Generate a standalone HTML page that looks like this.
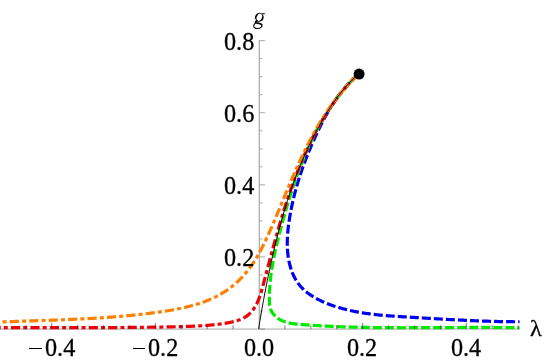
<!DOCTYPE html>
<html><head><meta charset="utf-8"><style>
html,body{margin:0;padding:0;background:#fff;}
body{width:545px;height:361px;overflow:hidden;position:relative;font-family:"Liberation Serif",serif;}
svg{position:absolute;left:0;top:0;}
.t{position:absolute;font-size:24.2px;line-height:1;color:#000;white-space:nowrap;-webkit-text-stroke:0.3px #000;will-change:transform;}
</style></head><body>
<svg width="545" height="361" viewBox="0 0 545 361">
<line x1="0" y1="329.1" x2="519.6" y2="329.1" stroke="#a6a6a6" stroke-width="1"/>
<line x1="259.3" y1="40.3" x2="259.3" y2="329.0" stroke="#a6a6a6" stroke-width="1.2"/>
<line x1="259.0" y1="310.98" x2="262.6" y2="310.98" stroke="#a8a8a8" stroke-width="1"/>
<line x1="259.0" y1="292.96" x2="262.6" y2="292.96" stroke="#a8a8a8" stroke-width="1"/>
<line x1="259.0" y1="274.94" x2="262.6" y2="274.94" stroke="#a8a8a8" stroke-width="1"/>
<line x1="259.0" y1="256.92" x2="265.0" y2="256.92" stroke="#a8a8a8" stroke-width="1"/>
<line x1="259.0" y1="238.90" x2="262.6" y2="238.90" stroke="#a8a8a8" stroke-width="1"/>
<line x1="259.0" y1="220.88" x2="262.6" y2="220.88" stroke="#a8a8a8" stroke-width="1"/>
<line x1="259.0" y1="202.86" x2="262.6" y2="202.86" stroke="#a8a8a8" stroke-width="1"/>
<line x1="259.0" y1="184.84" x2="265.0" y2="184.84" stroke="#a8a8a8" stroke-width="1"/>
<line x1="259.0" y1="166.82" x2="262.6" y2="166.82" stroke="#a8a8a8" stroke-width="1"/>
<line x1="259.0" y1="148.80" x2="262.6" y2="148.80" stroke="#a8a8a8" stroke-width="1"/>
<line x1="259.0" y1="130.78" x2="262.6" y2="130.78" stroke="#a8a8a8" stroke-width="1"/>
<line x1="259.0" y1="112.76" x2="265.0" y2="112.76" stroke="#a8a8a8" stroke-width="1"/>
<line x1="259.0" y1="94.74" x2="262.6" y2="94.74" stroke="#a8a8a8" stroke-width="1"/>
<line x1="259.0" y1="76.72" x2="262.6" y2="76.72" stroke="#a8a8a8" stroke-width="1"/>
<line x1="259.0" y1="58.70" x2="262.6" y2="58.70" stroke="#a8a8a8" stroke-width="1"/>
<line x1="259.0" y1="40.68" x2="265.0" y2="40.68" stroke="#a8a8a8" stroke-width="1"/>
<line x1="259.0" y1="329.1" x2="265.0" y2="329.1" stroke="#8e8e8e" stroke-width="1"/>
<g fill="none" stroke-linejoin="round">
<path d="M519.54,321.75 L518.09,321.75 L516.64,321.75 L515.19,321.74 L513.74,321.73 L512.29,321.72 L510.84,321.71 L509.39,321.69 L507.94,321.68 L506.49,321.66 L505.05,321.64 L503.60,321.61 L502.15,321.59 L500.71,321.56 L499.26,321.53 L497.82,321.49 L496.38,321.46 L494.93,321.42 L493.49,321.39 L492.05,321.35 L490.60,321.31 L489.16,321.26 L487.72,321.22 L486.28,321.17 L484.84,321.12 L483.40,321.07 L481.96,321.02 L480.52,320.97 L479.08,320.91 L477.64,320.86 L476.20,320.80 L474.76,320.74 L473.32,320.68 L471.88,320.62 L470.44,320.56 L469.00,320.49 L467.57,320.43 L466.13,320.36 L464.69,320.29 L463.25,320.22 L461.82,320.15 L460.38,320.08 L458.94,320.01 L457.50,319.94 L456.07,319.86 L454.63,319.79 L453.19,319.71 L451.75,319.63 L450.32,319.56 L448.88,319.48 L447.44,319.40 L446.01,319.32 L444.57,319.24 L443.13,319.16 L441.69,319.08 L440.26,319.00 L438.82,318.91 L437.38,318.83 L435.94,318.75 L434.51,318.66 L433.07,318.58 L431.63,318.49 L430.19,318.41 L428.75,318.32 L427.31,318.24 L425.87,318.15 L424.44,318.07 L423.00,317.98 L421.56,317.89 L420.12,317.81 L418.68,317.72 L417.24,317.64 L415.79,317.55 L414.35,317.46 L412.91,317.38 L411.47,317.29 L410.03,317.21 L408.58,317.12 L407.14,317.04 L405.70,316.95 L404.25,316.86 L402.81,316.78 L401.37,316.69 L399.92,316.60 L398.48,316.51 L397.03,316.41 L395.59,316.32 L394.15,316.22 L392.70,316.12 L391.26,316.02 L389.82,315.91 L388.38,315.80 L386.94,315.68 L385.49,315.56 L384.05,315.44 L382.61,315.31 L381.18,315.18 L379.74,315.04 L378.30,314.89 L376.86,314.74 L375.43,314.59 L373.99,314.43 L372.56,314.26 L371.13,314.08 L369.70,313.90 L368.27,313.71 L366.84,313.51 L365.41,313.30 L363.99,313.09 L362.56,312.87 L361.14,312.63 L359.72,312.39 L358.30,312.14 L356.88,311.88 L355.46,311.61 L354.05,311.33 L352.64,311.04 L351.23,310.74 L349.82,310.43 L348.41,310.10 L347.01,309.77 L345.61,309.42 L344.21,309.06 L342.81,308.69 L341.41,308.30 L340.02,307.90 L338.63,307.49 L337.24,307.07 L335.86,306.63 L334.47,306.18 L333.09,305.71 L331.72,305.23 L330.34,304.74 L328.97,304.22 L327.61,303.70 L326.25,303.15 L324.89,302.59 L323.55,302.02 L322.21,301.42 L320.89,300.80 L319.57,300.17 L318.27,299.52 L316.98,298.84 L315.71,298.15 L314.46,297.43 L313.22,296.70 L312.01,295.94 L310.81,295.15 L309.63,294.35 L308.48,293.52 L307.35,292.66 L306.25,291.78 L305.17,290.88 L304.12,289.95 L303.10,288.99 L302.10,288.00 L301.14,286.99 L300.22,285.94 L299.32,284.87 L298.46,283.77 L297.64,282.64 L296.85,281.48 L296.10,280.29 L295.38,279.07 L294.70,277.83 L294.06,276.56 L293.45,275.28 L292.87,273.97 L292.32,272.64 L291.81,271.30 L291.33,269.95 L290.88,268.58 L290.46,267.20 L290.06,265.82 L289.70,264.42 L289.37,263.02 L289.06,261.62 L288.78,260.21 L288.52,258.79 L288.29,257.37 L288.09,255.95 L287.91,254.52 L287.75,253.09 L287.62,251.65 L287.51,250.21 L287.42,248.77 L287.36,247.32 L287.31,245.88 L287.28,244.43 L287.28,242.97 L287.29,241.52 L287.32,240.06 L287.37,238.61 L287.43,237.15 L287.51,235.69 L287.61,234.23 L287.72,232.77 L287.85,231.31 L287.99,229.85 L288.14,228.40 L288.31,226.94 L288.49,225.49 L288.68,224.03 L288.88,222.58 L289.09,221.13 L289.31,219.68 L289.54,218.24 L289.78,216.79 L290.02,215.36 L290.28,213.92 L290.54,212.49 L290.80,211.06 L291.08,209.63 L291.36,208.21 L291.65,206.79 L291.95,205.37 L292.25,203.95 L292.56,202.54 L292.88,201.13 L293.21,199.73 L293.54,198.33 L293.88,196.92 L294.23,195.53 L294.58,194.13 L294.94,192.74 L295.31,191.35 L295.68,189.96 L296.06,188.58 L296.45,187.20 L296.84,185.82 L297.24,184.44 L297.65,183.07 L298.06,181.69 L298.48,180.32 L298.91,178.95 L299.34,177.59 L299.78,176.23 L300.22,174.86 L300.67,173.51 L301.13,172.15 L301.59,170.79 L302.06,169.44 L302.53,168.09 L303.01,166.74 L303.50,165.39 L303.99,164.05 L304.49,162.71 L304.99,161.36 L305.50,160.02 L306.01,158.69 L306.53,157.35 L307.06,156.01 L307.59,154.68 L308.13,153.35 L308.67,152.02 L309.21,150.69 L309.77,149.37 L310.32,148.04 L310.89,146.72 L311.45,145.39 L312.02,144.07 L312.60,142.75 L313.18,141.43 L313.77,140.12 L314.36,138.80 L314.96,137.48 L315.56,136.17 L316.17,134.86 L316.78,133.54 L317.40,132.23 L318.02,130.92 L318.64,129.62 L319.27,128.31 L319.91,127.01 L320.56,125.71 L321.20,124.41 L321.86,123.12 L322.52,121.83 L323.19,120.54 L323.87,119.26 L324.55,117.98 L325.24,116.70 L325.94,115.43 L326.65,114.17 L327.36,112.91 L328.08,111.65 L328.82,110.40 L329.56,109.16 L330.30,107.93 L331.06,106.70 L331.83,105.47 L332.61,104.26 L333.39,103.05 L334.19,101.84 L334.99,100.65 L335.81,99.46 L336.64,98.29 L337.48,97.12 L338.33,95.96 L339.19,94.81 L340.06,93.66 L340.94,92.53 L341.84,91.41 L342.74,90.30 L343.66,89.19 L344.59,88.10 L345.54,87.02 L346.50,85.95 L347.47,84.89 L348.45,83.85 L349.45,82.81 L350.46,81.79 L351.49,80.78 L352.52,79.78 L353.58,78.80 L354.65,77.82 L355.73,76.87 L356.83,75.92 L357.94,74.99 L359.07,74.07" stroke="#0000f5" stroke-width="3.2" stroke-dasharray="9 3.05" stroke-dashoffset="7.6"/>
<path d="M519.57,327.80 L517.95,327.76 L516.33,327.73 L514.70,327.71 L513.08,327.68 L511.46,327.65 L509.85,327.63 L508.23,327.61 L506.61,327.59 L504.99,327.57 L503.38,327.55 L501.76,327.53 L500.15,327.52 L498.53,327.51 L496.92,327.49 L495.30,327.48 L493.69,327.47 L492.08,327.46 L490.47,327.46 L488.86,327.45 L487.24,327.44 L485.63,327.44 L484.02,327.44 L482.42,327.43 L480.81,327.43 L479.20,327.43 L477.59,327.43 L475.98,327.43 L474.38,327.43 L472.77,327.43 L471.16,327.44 L469.56,327.44 L467.95,327.45 L466.35,327.45 L464.74,327.46 L463.14,327.46 L461.53,327.47 L459.93,327.48 L458.33,327.48 L456.72,327.49 L455.12,327.50 L453.52,327.51 L451.91,327.52 L450.31,327.52 L448.71,327.53 L447.11,327.54 L445.51,327.55 L443.91,327.56 L442.31,327.57 L440.70,327.58 L439.10,327.59 L437.50,327.60 L435.90,327.61 L434.30,327.62 L432.70,327.63 L431.10,327.64 L429.50,327.65 L427.91,327.65 L426.31,327.66 L424.71,327.67 L423.11,327.68 L421.51,327.69 L419.91,327.69 L418.31,327.70 L416.71,327.70 L415.11,327.71 L413.51,327.71 L411.91,327.72 L410.31,327.72 L408.72,327.72 L407.12,327.73 L405.52,327.73 L403.92,327.73 L402.32,327.73 L400.72,327.73 L399.12,327.72 L397.52,327.72 L395.92,327.72 L394.32,327.71 L392.72,327.70 L391.12,327.70 L389.52,327.69 L387.92,327.68 L386.32,327.67 L384.72,327.66 L383.12,327.64 L381.52,327.63 L379.92,327.61 L378.32,327.60 L376.72,327.58 L375.11,327.56 L373.51,327.54 L371.91,327.51 L370.31,327.49 L368.70,327.46 L367.10,327.44 L365.50,327.41 L363.89,327.38 L362.29,327.34 L360.68,327.31 L359.08,327.27 L357.47,327.23 L355.87,327.19 L354.26,327.15 L352.66,327.11 L351.05,327.06 L349.44,327.02 L347.83,326.97 L346.23,326.91 L344.62,326.86 L343.01,326.80 L341.40,326.75 L339.79,326.69 L338.18,326.62 L336.57,326.56 L334.96,326.49 L333.34,326.42 L331.73,326.35 L330.12,326.28 L328.51,326.20 L326.89,326.12 L325.28,326.04 L323.66,325.95 L322.05,325.87 L320.43,325.78 L318.81,325.68 L317.19,325.59 L315.58,325.49 L313.96,325.39 L312.34,325.29 L310.72,325.18 L309.10,325.07 L307.47,324.96 L305.85,324.85 L304.23,324.73 L302.60,324.61 L300.98,324.48 L299.36,324.35 L297.73,324.21 L296.12,324.05 L294.51,323.86 L292.92,323.65 L291.34,323.39 L289.78,323.10 L288.23,322.75 L286.71,322.35 L285.21,321.89 L283.74,321.36 L282.30,320.76 L280.90,320.08 L279.53,319.31 L278.19,318.45 L276.90,317.50 L275.66,316.44 L274.49,315.30 L273.41,314.08 L272.43,312.78 L271.57,311.41 L270.86,309.99 L270.30,308.51 L269.90,306.99 L269.64,305.43 L269.49,303.84 L269.42,302.24 L269.39,300.63 L269.38,299.02 L269.38,297.41 L269.40,295.80 L269.43,294.20 L269.48,292.60 L269.55,290.99 L269.63,289.39 L269.72,287.79 L269.83,286.19 L269.95,284.59 L270.08,283.00 L270.23,281.40 L270.39,279.81 L270.56,278.22 L270.75,276.63 L270.95,275.03 L271.15,273.45 L271.37,271.86 L271.60,270.27 L271.85,268.69 L272.10,267.10 L272.36,265.52 L272.63,263.94 L272.91,262.36 L273.20,260.78 L273.50,259.20 L273.81,257.62 L274.13,256.04 L274.45,254.47 L274.79,252.90 L275.13,251.32 L275.47,249.75 L275.83,248.18 L276.19,246.61 L276.55,245.04 L276.93,243.48 L277.30,241.91 L277.69,240.35 L278.08,238.78 L278.47,237.22 L278.87,235.66 L279.27,234.10 L279.68,232.54 L280.09,230.98 L280.50,229.43 L280.92,227.87 L281.34,226.32 L281.76,224.76 L282.18,223.21 L282.61,221.66 L283.04,220.11 L283.47,218.56 L283.90,217.01 L284.34,215.47 L284.78,213.92 L285.22,212.38 L285.67,210.84 L286.11,209.29 L286.56,207.75 L287.02,206.21 L287.48,204.68 L287.94,203.14 L288.40,201.61 L288.87,200.07 L289.34,198.54 L289.82,197.01 L290.30,195.48 L290.78,193.96 L291.27,192.43 L291.77,190.91 L292.26,189.38 L292.76,187.86 L293.27,186.34 L293.78,184.83 L294.29,183.31 L294.81,181.80 L295.34,180.28 L295.87,178.77 L296.40,177.26 L296.94,175.76 L297.49,174.25 L298.04,172.75 L298.60,171.25 L299.16,169.75 L299.72,168.25 L300.30,166.75 L300.88,165.26 L301.46,163.77 L302.05,162.28 L302.65,160.79 L303.25,159.30 L303.86,157.82 L304.48,156.34 L305.10,154.86 L305.73,153.38 L306.37,151.91 L307.01,150.43 L307.66,148.96 L308.32,147.49 L308.98,146.03 L309.66,144.57 L310.33,143.10 L311.02,141.65 L311.71,140.19 L312.41,138.74 L313.12,137.29 L313.84,135.85 L314.56,134.41 L315.29,132.97 L316.03,131.54 L316.78,130.11 L317.54,128.69 L318.30,127.27 L319.07,125.85 L319.85,124.44 L320.64,123.04 L321.44,121.64 L322.24,120.24 L323.06,118.85 L323.88,117.47 L324.71,116.09 L325.55,114.72 L326.40,113.36 L327.26,112.00 L328.13,110.65 L329.01,109.30 L329.89,107.96 L330.79,106.63 L331.69,105.30 L332.61,103.99 L333.53,102.68 L334.47,101.37 L335.41,100.08 L336.36,98.79 L337.33,97.51 L338.30,96.24 L339.28,94.98 L340.28,93.72 L341.28,92.48 L342.30,91.24 L343.32,90.01 L344.36,88.79 L345.40,87.58 L346.46,86.38 L347.52,85.19 L348.60,84.01 L349.69,82.84 L350.79,81.68 L351.90,80.53 L353.02,79.39 L354.16,78.26 L355.30,77.14 L356.46,76.04 L357.62,74.94 L358.80,73.85" stroke="#00ea00" stroke-width="3.2" stroke-dasharray="9 3.05" stroke-dashoffset="6.9"/>
<path d="M-0.00,327.70 L1.63,327.69 L3.25,327.68 L4.88,327.67 L6.51,327.66 L8.14,327.65 L9.77,327.64 L11.39,327.64 L13.02,327.63 L14.65,327.62 L16.28,327.62 L17.90,327.61 L19.53,327.61 L21.16,327.60 L22.79,327.60 L24.42,327.60 L26.04,327.59 L27.67,327.59 L29.30,327.59 L30.93,327.59 L32.55,327.59 L34.18,327.58 L35.81,327.58 L37.44,327.58 L39.07,327.58 L40.69,327.58 L42.32,327.58 L43.95,327.58 L45.58,327.58 L47.20,327.58 L48.83,327.58 L50.46,327.58 L52.09,327.58 L53.72,327.59 L55.34,327.59 L56.97,327.59 L58.60,327.59 L60.23,327.59 L61.85,327.59 L63.48,327.59 L65.11,327.59 L66.74,327.60 L68.36,327.60 L69.99,327.60 L71.62,327.60 L73.25,327.60 L74.87,327.60 L76.50,327.60 L78.13,327.60 L79.76,327.60 L81.38,327.60 L83.01,327.60 L84.64,327.60 L86.27,327.60 L87.89,327.60 L89.52,327.60 L91.15,327.60 L92.78,327.60 L94.40,327.60 L96.03,327.59 L97.66,327.59 L99.29,327.59 L100.91,327.58 L102.54,327.58 L104.17,327.58 L105.80,327.57 L107.42,327.57 L109.05,327.56 L110.68,327.56 L112.30,327.55 L113.93,327.54 L115.56,327.54 L117.19,327.53 L118.81,327.52 L120.44,327.51 L122.07,327.50 L123.69,327.49 L125.32,327.48 L126.95,327.47 L128.58,327.45 L130.20,327.44 L131.83,327.43 L133.46,327.41 L135.08,327.40 L136.71,327.38 L138.34,327.37 L139.97,327.35 L141.59,327.33 L143.22,327.31 L144.85,327.29 L146.47,327.27 L148.10,327.25 L149.73,327.23 L151.35,327.20 L152.98,327.18 L154.61,327.15 L156.24,327.13 L157.86,327.10 L159.49,327.07 L161.12,327.04 L162.74,327.01 L164.37,326.98 L166.00,326.95 L167.62,326.92 L169.25,326.88 L170.88,326.85 L172.50,326.81 L174.13,326.77 L175.76,326.73 L177.38,326.69 L179.01,326.65 L180.64,326.61 L182.26,326.56 L183.89,326.52 L185.52,326.47 L187.14,326.42 L188.77,326.37 L190.40,326.31 L192.02,326.24 L193.65,326.18 L195.27,326.10 L196.90,326.03 L198.53,325.94 L200.15,325.85 L201.78,325.75 L203.40,325.65 L205.03,325.53 L206.66,325.41 L208.28,325.28 L209.91,325.13 L211.53,324.98 L213.16,324.82 L214.78,324.64 L216.41,324.46 L218.03,324.26 L219.66,324.05 L221.28,323.83 L222.90,323.59 L224.53,323.34 L226.15,323.08 L227.77,322.80 L229.40,322.50 L231.02,322.19 L232.63,321.84 L234.23,321.47 L235.81,321.06 L237.37,320.60 L238.90,320.10 L240.40,319.53 L241.87,318.91 L243.29,318.21 L244.67,317.44 L245.99,316.59 L247.27,315.65 L248.49,314.65 L249.65,313.58 L250.77,312.44 L251.83,311.25 L252.83,310.01 L253.78,308.71 L254.67,307.38 L255.51,306.01 L256.29,304.60 L257.02,303.17 L257.70,301.70 L258.35,300.21 L258.95,298.70 L259.51,297.16 L260.05,295.61 L260.56,294.05 L261.05,292.47 L261.51,290.88 L261.96,289.28 L262.40,287.68 L262.83,286.08 L263.26,284.48 L263.69,282.88 L264.11,281.28 L264.54,279.68 L264.96,278.09 L265.38,276.50 L265.80,274.91 L266.23,273.32 L266.65,271.73 L267.07,270.15 L267.48,268.57 L267.90,266.99 L268.32,265.41 L268.74,263.83 L269.16,262.25 L269.58,260.68 L270.00,259.11 L270.42,257.53 L270.84,255.96 L271.26,254.40 L271.69,252.83 L272.11,251.26 L272.53,249.70 L272.96,248.13 L273.38,246.57 L273.81,245.01 L274.24,243.45 L274.67,241.89 L275.10,240.33 L275.53,238.77 L275.97,237.21 L276.41,235.66 L276.85,234.10 L277.29,232.54 L277.73,230.99 L278.18,229.44 L278.63,227.88 L279.08,226.33 L279.53,224.77 L279.99,223.22 L280.45,221.67 L280.91,220.12 L281.37,218.56 L281.84,217.01 L282.32,215.46 L282.79,213.91 L283.27,212.36 L283.75,210.80 L284.24,209.25 L284.73,207.70 L285.22,206.15 L285.72,204.60 L286.22,203.05 L286.73,201.50 L287.24,199.95 L287.75,198.40 L288.27,196.86 L288.79,195.31 L289.32,193.77 L289.85,192.22 L290.38,190.68 L290.92,189.14 L291.47,187.60 L292.02,186.06 L292.57,184.52 L293.13,182.99 L293.69,181.45 L294.26,179.92 L294.84,178.39 L295.41,176.86 L296.00,175.33 L296.59,173.81 L297.18,172.29 L297.78,170.77 L298.39,169.25 L299.00,167.73 L299.62,166.22 L300.24,164.71 L300.87,163.20 L301.50,161.70 L302.14,160.19 L302.79,158.69 L303.44,157.20 L304.10,155.70 L304.76,154.21 L305.43,152.73 L306.11,151.24 L306.79,149.76 L307.48,148.29 L308.18,146.81 L308.88,145.34 L309.59,143.87 L310.30,142.41 L311.03,140.95 L311.76,139.50 L312.49,138.05 L313.24,136.60 L313.99,135.16 L314.75,133.72 L315.51,132.28 L316.28,130.85 L317.06,129.43 L317.85,128.01 L318.65,126.59 L319.45,125.18 L320.26,123.77 L321.08,122.37 L321.90,120.98 L322.73,119.58 L323.58,118.20 L324.42,116.81 L325.28,115.44 L326.15,114.07 L327.02,112.70 L327.90,111.34 L328.79,109.99 L329.69,108.64 L330.60,107.30 L331.51,105.96 L332.44,104.63 L333.37,103.30 L334.31,101.98 L335.26,100.67 L336.22,99.36 L337.19,98.06 L338.17,96.77 L339.16,95.48 L340.15,94.20 L341.16,92.92 L342.17,91.66 L343.20,90.39 L344.23,89.14 L345.27,87.89 L346.32,86.65 L347.39,85.42 L348.46,84.19 L349.54,82.98 L350.63,81.76 L351.73,80.56 L352.85,79.36 L353.97,78.17 L355.10,76.99 L356.24,75.82 L357.39,74.65 L358.56,73.50" stroke="#ee0008" stroke-width="3.2" stroke-dasharray="9.2 3.1 4.05 3.1" stroke-dashoffset="8.55"/>
<path d="M-0.12,322.01 L1.44,321.95 L3.00,321.89 L4.56,321.83 L6.11,321.77 L7.67,321.71 L9.22,321.65 L10.77,321.60 L12.32,321.54 L13.87,321.48 L15.42,321.43 L16.97,321.38 L18.51,321.32 L20.05,321.27 L21.60,321.22 L23.14,321.16 L24.68,321.11 L26.22,321.06 L27.75,321.01 L29.29,320.96 L30.82,320.91 L32.36,320.85 L33.89,320.80 L35.42,320.75 L36.95,320.70 L38.48,320.65 L40.01,320.60 L41.54,320.55 L43.07,320.49 L44.59,320.44 L46.12,320.39 L47.64,320.34 L49.16,320.28 L50.69,320.23 L52.21,320.17 L53.73,320.12 L55.25,320.06 L56.77,320.01 L58.29,319.95 L59.81,319.89 L61.33,319.83 L62.85,319.77 L64.36,319.71 L65.88,319.65 L67.40,319.59 L68.91,319.52 L70.43,319.46 L71.94,319.39 L73.46,319.32 L74.97,319.26 L76.48,319.19 L78.00,319.12 L79.51,319.04 L81.02,318.97 L82.54,318.89 L84.05,318.82 L85.56,318.74 L87.08,318.66 L88.59,318.57 L90.10,318.49 L91.61,318.40 L93.13,318.32 L94.64,318.23 L96.15,318.14 L97.66,318.04 L99.18,317.95 L100.69,317.85 L102.20,317.75 L103.72,317.65 L105.23,317.54 L106.74,317.44 L108.26,317.33 L109.77,317.22 L111.29,317.11 L112.80,316.99 L114.32,316.87 L115.84,316.75 L117.35,316.63 L118.87,316.50 L120.39,316.37 L121.91,316.24 L123.43,316.11 L124.94,315.97 L126.46,315.83 L127.99,315.68 L129.51,315.54 L131.03,315.39 L132.55,315.24 L134.08,315.08 L135.60,314.92 L137.13,314.76 L138.65,314.60 L140.18,314.43 L141.71,314.26 L143.24,314.08 L144.77,313.90 L146.30,313.72 L147.83,313.53 L149.36,313.34 L150.90,313.15 L152.43,312.96 L153.97,312.75 L155.51,312.55 L157.04,312.34 L158.58,312.13 L160.12,311.91 L161.66,311.69 L163.20,311.46 L164.74,311.23 L166.28,310.99 L167.82,310.74 L169.36,310.49 L170.89,310.23 L172.43,309.96 L173.96,309.68 L175.49,309.40 L177.01,309.11 L178.53,308.80 L180.05,308.49 L181.57,308.17 L183.08,307.84 L184.59,307.50 L186.10,307.14 L187.59,306.78 L189.09,306.40 L190.58,306.02 L192.06,305.62 L193.54,305.20 L195.01,304.78 L196.47,304.34 L197.93,303.89 L199.38,303.42 L200.83,302.94 L202.26,302.44 L203.69,301.93 L205.11,301.40 L206.52,300.86 L207.92,300.30 L209.32,299.72 L210.70,299.13 L212.07,298.52 L213.44,297.89 L214.79,297.24 L216.14,296.58 L217.47,295.89 L218.79,295.19 L220.10,294.47 L221.40,293.72 L222.69,292.96 L223.96,292.18 L225.22,291.37 L226.47,290.54 L227.71,289.70 L228.93,288.83 L230.14,287.93 L231.33,287.02 L232.51,286.08 L233.68,285.12 L234.83,284.14 L235.97,283.14 L237.09,282.12 L238.19,281.08 L239.29,280.02 L240.36,278.94 L241.43,277.85 L242.47,276.73 L243.50,275.60 L244.52,274.46 L245.51,273.29 L246.50,272.12 L247.46,270.92 L248.41,269.71 L249.34,268.49 L250.26,267.26 L251.16,266.01 L252.04,264.75 L252.91,263.47 L253.75,262.19 L254.58,260.89 L255.40,259.59 L256.20,258.27 L256.99,256.95 L257.76,255.61 L258.52,254.27 L259.27,252.92 L260.01,251.57 L260.73,250.20 L261.44,248.84 L262.15,247.46 L262.84,246.08 L263.53,244.70 L264.20,243.32 L264.87,241.93 L265.54,240.54 L266.19,239.15 L266.84,237.76 L267.49,236.36 L268.13,234.97 L268.76,233.57 L269.39,232.18 L270.02,230.78 L270.64,229.38 L271.25,227.99 L271.87,226.59 L272.48,225.19 L273.08,223.79 L273.69,222.39 L274.29,220.99 L274.88,219.59 L275.48,218.19 L276.07,216.78 L276.66,215.38 L277.25,213.98 L277.83,212.57 L278.42,211.17 L279.00,209.76 L279.59,208.36 L280.17,206.95 L280.75,205.55 L281.33,204.14 L281.91,202.73 L282.49,201.32 L283.07,199.92 L283.65,198.51 L284.24,197.10 L284.82,195.69 L285.40,194.28 L285.99,192.87 L286.57,191.46 L287.16,190.05 L287.75,188.64 L288.34,187.23 L288.94,185.82 L289.53,184.41 L290.13,183.00 L290.73,181.59 L291.33,180.18 L291.94,178.78 L292.54,177.37 L293.15,175.96 L293.76,174.56 L294.38,173.15 L295.00,171.75 L295.62,170.34 L296.24,168.94 L296.87,167.54 L297.50,166.14 L298.13,164.74 L298.77,163.35 L299.41,161.95 L300.05,160.56 L300.70,159.17 L301.35,157.78 L302.00,156.39 L302.66,155.01 L303.33,153.62 L303.99,152.24 L304.67,150.86 L305.34,149.49 L306.02,148.11 L306.71,146.74 L307.40,145.37 L308.09,144.01 L308.79,142.65 L309.50,141.29 L310.21,139.93 L310.92,138.58 L311.64,137.23 L312.37,135.88 L313.10,134.54 L313.84,133.20 L314.58,131.86 L315.33,130.53 L316.08,129.20 L316.84,127.87 L317.61,126.55 L318.38,125.23 L319.16,123.92 L319.95,122.61 L320.74,121.31 L321.54,120.01 L322.34,118.71 L323.15,117.42 L323.97,116.14 L324.80,114.86 L325.63,113.58 L326.47,112.31 L327.32,111.04 L328.17,109.78 L329.03,108.52 L329.90,107.27 L330.78,106.03 L331.66,104.79 L332.55,103.55 L333.46,102.32 L334.36,101.10 L335.28,99.88 L336.21,98.67 L337.14,97.47 L338.08,96.27 L339.03,95.08 L339.99,93.89 L340.96,92.71 L341.93,91.54 L342.92,90.37 L343.91,89.21 L344.92,88.06 L345.93,86.91 L346.95,85.77 L347.98,84.64 L349.02,83.51 L350.07,82.39 L351.13,81.28 L352.20,80.18 L353.28,79.08 L354.37,77.99 L355.47,76.91 L356.58,75.84 L357.71,74.77 L358.84,73.72" stroke="#ff8000" stroke-width="3.2" stroke-dasharray="9.2 3.1 4.05 3.1" stroke-dashoffset="9.55"/>
<path d="M258.62,328.80 L258.95,326.69 L259.30,324.58 L259.64,322.48 L259.99,320.37 L260.35,318.26 L260.70,316.15 L261.06,314.05 L261.43,311.94 L261.80,309.83 L262.17,307.72 L262.55,305.62 L262.93,303.51 L263.31,301.40 L263.70,299.29 L264.09,297.19 L264.49,295.08 L264.89,292.97 L265.29,290.86 L265.70,288.76 L266.11,286.65 L266.53,284.54 L266.95,282.43 L267.37,280.33 L267.80,278.22 L268.23,276.11 L268.67,274.00 L269.11,271.90 L269.55,269.79 L270.00,267.68 L270.45,265.57 L270.91,263.47 L271.38,261.36 L271.85,259.25 L272.32,257.14 L272.80,255.04 L273.28,252.93 L273.77,250.82 L274.27,248.71 L274.77,246.61 L275.27,244.50 L275.79,242.39 L276.30,240.28 L276.83,238.17 L277.36,236.07 L277.90,233.96 L278.44,231.85 L278.99,229.74 L279.55,227.64 L280.12,225.53 L280.69,223.42 L281.27,221.31 L281.86,219.21 L282.45,217.10 L283.06,214.99 L283.67,212.88 L284.29,210.78 L284.93,208.67 L285.57,206.56 L286.22,204.45 L286.87,202.35 L287.54,200.24 L288.22,198.13 L288.91,196.02 L289.61,193.92 L290.32,191.81 L291.05,189.70 L291.78,187.59 L292.52,185.49 L293.28,183.38 L294.05,181.27 L294.83,179.16 L295.63,177.06 L296.43,174.95 L297.25,172.84 L298.09,170.73 L298.93,168.63 L299.79,166.52 L300.67,164.41 L301.56,162.30 L302.46,160.19 L303.37,158.09 L304.30,155.98 L305.25,153.87 L306.21,151.76 L307.18,149.66 L308.17,147.55 L309.18,145.44 L310.20,143.33 L311.23,141.23 L312.28,139.12 L313.35,137.01 L314.43,134.90 L315.53,132.80 L316.64,130.69 L317.77,128.58 L318.92,126.47 L320.08,124.37 L321.26,122.26 L322.47,120.15 L323.69,118.04 L324.93,115.94 L326.20,113.83 L327.50,111.72 L328.83,109.61 L330.18,107.51 L331.58,105.40 L333.00,103.29 L334.47,101.18 L335.98,99.08 L337.53,96.97 L339.14,94.86 L340.80,92.75 L342.51,90.65 L344.29,88.54 L346.13,86.43 L348.05,84.32 L350.04,82.22 L352.10,80.11 L354.26,78.00 L359.10,74.10" stroke="#000" stroke-width="1"/>
</g>
<line x1="-0.15" y1="329.0" x2="-0.15" y2="325.3" stroke="#222" stroke-width="0.6"/>
<line x1="25.77" y1="329.0" x2="25.77" y2="325.3" stroke="#222" stroke-width="0.6"/>
<line x1="51.68" y1="329.0" x2="51.68" y2="322.8" stroke="#222" stroke-width="0.6"/>
<line x1="77.59" y1="329.0" x2="77.59" y2="325.3" stroke="#222" stroke-width="0.6"/>
<line x1="103.51" y1="329.0" x2="103.51" y2="325.3" stroke="#222" stroke-width="0.6"/>
<line x1="129.43" y1="329.0" x2="129.43" y2="325.3" stroke="#222" stroke-width="0.6"/>
<line x1="155.34" y1="329.0" x2="155.34" y2="322.8" stroke="#222" stroke-width="0.6"/>
<line x1="181.25" y1="329.0" x2="181.25" y2="325.3" stroke="#222" stroke-width="0.6"/>
<line x1="207.17" y1="329.0" x2="207.17" y2="325.3" stroke="#222" stroke-width="0.6"/>
<line x1="233.09" y1="329.0" x2="233.09" y2="325.3" stroke="#222" stroke-width="0.6"/>
<line x1="284.92" y1="329.0" x2="284.92" y2="325.3" stroke="#222" stroke-width="0.6"/>
<line x1="310.83" y1="329.0" x2="310.83" y2="325.3" stroke="#222" stroke-width="0.6"/>
<line x1="336.75" y1="329.0" x2="336.75" y2="325.3" stroke="#222" stroke-width="0.6"/>
<line x1="362.66" y1="329.0" x2="362.66" y2="322.8" stroke="#222" stroke-width="0.6"/>
<line x1="388.57" y1="329.0" x2="388.57" y2="325.3" stroke="#222" stroke-width="0.6"/>
<line x1="414.49" y1="329.0" x2="414.49" y2="325.3" stroke="#222" stroke-width="0.6"/>
<line x1="440.40" y1="329.0" x2="440.40" y2="325.3" stroke="#222" stroke-width="0.6"/>
<line x1="466.32" y1="329.0" x2="466.32" y2="322.8" stroke="#222" stroke-width="0.6"/>
<line x1="492.24" y1="329.0" x2="492.24" y2="325.3" stroke="#222" stroke-width="0.6"/>
<line x1="518.15" y1="329.0" x2="518.15" y2="325.3" stroke="#222" stroke-width="0.6"/>
<g id="gl" fill="none" stroke="#000" stroke-linecap="round">
<g transform="rotate(22 259.35 17.3)"><path fill="#000" stroke="none" fill-rule="evenodd" d="M255.05 17.3 a4.3 4.45 0 1 0 8.6 0 a4.3 4.45 0 1 0 -8.6 0 Z M256.75 17.3 a2.6 3.75 0 1 0 5.2 0 a2.6 3.75 0 1 0 -5.2 0 Z"/></g>
<path d="M262.0 13.8 L264.4 13.8" stroke-width="1.05"/>
<path d="M256.9 21.0 C255.6 21.6 255.0 22.4 255.9 22.75 C257.5 23.3 260.6 23.3 261.6 24.6" stroke-width="1.7"/>
<path d="M261.6 24.6 C262.7 26.3 260.8 28.55 257.6 28.55 C254.4 28.55 252.9 26.7 254.2 24.5 C254.6 23.8 255.2 23.2 255.9 22.75" stroke-width="1.1"/>
</g>
<circle cx="359.1" cy="74.1" r="5.5" fill="#000"/>
</svg>
<div class="t" style="right:290.60px;top:29.78px">0.8</div>
<div class="t" style="right:290.60px;top:101.86px">0.6</div>
<div class="t" style="right:290.60px;top:173.94px">0.4</div>
<div class="t" style="right:290.60px;top:246.02px">0.2</div>
<div style="position:absolute;left:29.08px;top:348.2px;width:12.7px;height:1.1px;background:#000"></div><div class="t" style="left:44.66px;top:335.5px">0.4</div>
<div style="position:absolute;left:132.74px;top:348.2px;width:12.7px;height:1.1px;background:#000"></div><div class="t" style="left:148.32px;top:335.5px">0.2</div>
<div class="t" style="left:198.60px;width:120px;text-align:center;top:335.5px">0.0</div>
<div class="t" style="left:302.26px;width:120px;text-align:center;top:335.5px">0.2</div>
<div class="t" style="left:405.92px;width:120px;text-align:center;top:335.5px">0.4</div>
<div class="t" style="left:530px;top:318.3px;font-size:22.4px;transform:scaleX(1.08);transform-origin:0 0">λ</div>
</body></html>
